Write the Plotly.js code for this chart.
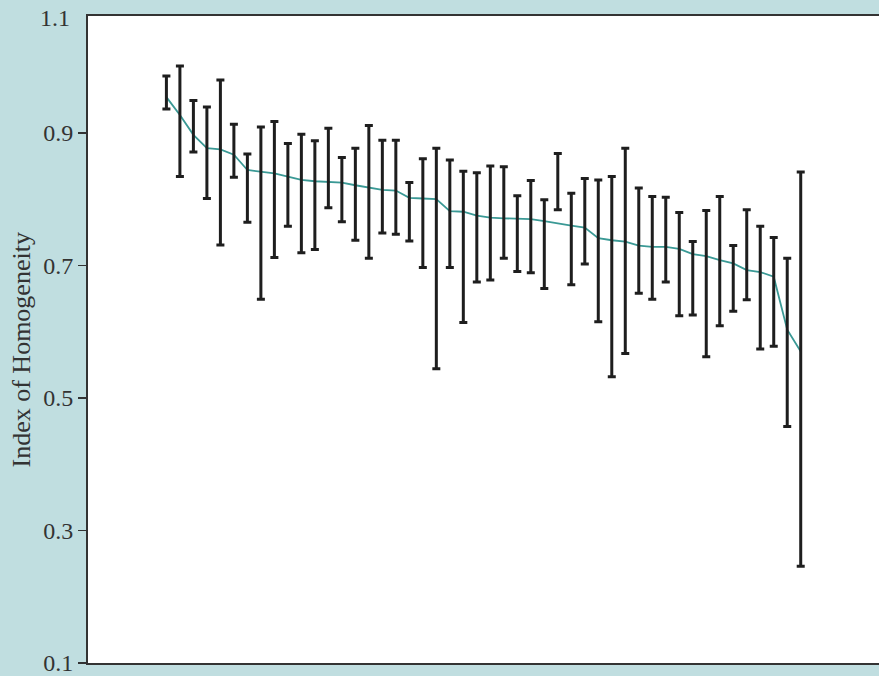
<!DOCTYPE html>
<html>
<head>
<meta charset="utf-8">
<script src="https://cdn.plot.ly/plotly-3.0.1.min.js"></script>
<style>
  html, body { margin: 0; padding: 0; background: #c0dee0; }
  #chart { width: 879px; height: 676px; }
</style>
</head>
<body>
<div id="chart"></div>
<script>
// Mean index of homogeneity per unit (teal line), sorted descending
const means = [0.954,0.927,0.897,0.877,0.875,0.867,0.844,0.841,0.839,0.834,
               0.829,0.827,0.826,0.825,0.821,0.818,0.814,0.813,0.802,0.801,
               0.800,0.782,0.781,0.775,0.772,0.771,0.771,0.770,0.767,0.763,
               0.760,0.757,0.741,0.738,0.736,0.730,0.728,0.728,0.725,0.717,
               0.714,0.708,0.703,0.693,0.690,0.683,0.603,0.570];
// Upper end of each interval
const upper = [0.986,1.001,0.949,0.939,0.980,0.913,0.868,0.909,0.917,0.884,
               0.898,0.888,0.907,0.863,0.877,0.911,0.889,0.889,0.825,0.861,
               0.877,0.859,0.842,0.840,0.850,0.849,0.805,0.828,0.799,0.869,
               0.809,0.831,0.829,0.834,0.877,0.817,0.804,0.803,0.780,0.736,
               0.783,0.804,0.730,0.784,0.759,0.742,0.711,0.841];
// Lower end of each interval
const lower = [0.936,0.834,0.871,0.801,0.731,0.833,0.765,0.649,0.712,0.759,
               0.719,0.724,0.787,0.766,0.738,0.711,0.749,0.747,0.737,0.697,
               0.544,0.697,0.614,0.675,0.678,0.711,0.691,0.689,0.665,0.784,
               0.671,0.702,0.615,0.532,0.567,0.658,0.649,0.675,0.624,0.625,
               0.562,0.609,0.631,0.648,0.574,0.578,0.457,0.246];
const units = means.map((_, i) => i + 1);
const yTickVals = [0.1, 0.3, 0.5, 0.7, 0.9];
const yTickText = ['0.1', '0.3', '0.5', '0.7', '0.9'];
const yTopLabel = '1.1';
const yTitle = 'Index of Homogeneity';

const BG = '#c0dee0';
const FONT = '"Liberation Serif", "DejaVu Serif", serif';
const TEXT = '#333333';

const lineTrace = {
  x: units, y: means, type: 'scatter', mode: 'lines',
  line: { color: '#3a9995', width: 1.8 },
  hoverinfo: 'skip', showlegend: false
};

const barTrace = {
  x: units, y: lower, type: 'scatter', mode: 'markers',
  marker: { color: 'rgba(0,0,0,0)', size: 1 },
  error_y: {
    type: 'data', symmetric: false,
    array: upper.map((u, i) => u - lower[i]),
    arrayminus: lower.map(() => 0),
    color: '#1e1e1e', thickness: 3, width: 4
  },
  hoverinfo: 'skip', showlegend: false
};

const layout = {
  width: 879, height: 676,
  paper_bgcolor: BG, plot_bgcolor: '#ffffff',
  margin: { l: 88, r: 0, t: 16, b: 13, pad: 0 },
  font: { family: FONT, color: TEXT, size: 24 },
  showlegend: false,
  xaxis: {
    range: [-4.81, 53.8],
    showgrid: false, zeroline: false, showticklabels: false, ticks: '',
    showline: true, linecolor: '#333333', linewidth: 2, mirror: true
  },
  yaxis: {
    range: [0.1, 1.0764],
    tickvals: yTickVals, ticktext: yTickText,
    ticks: 'outside', ticklen: 8, tickwidth: 1.5, tickcolor: '#333333',
    ticklabelstandoff: 0, ticklabeloverflow: 'allow',
    tickfont: { family: FONT, size: 24, color: TEXT },
    showgrid: false, zeroline: false,
    showline: true, linecolor: '#333333', linewidth: 2
  },
  annotations: [{
    xref: 'paper', yref: 'paper', x: 0, y: 1,
    xanchor: 'right', yanchor: 'middle', xshift: -16, yshift: -2,
    text: yTopLabel, showarrow: false,
    font: { family: FONT, size: 24, color: TEXT }
  }, {
    xref: 'paper', yref: 'paper', x: 0, y: 0.5,
    xanchor: 'center', yanchor: 'middle', xshift: -67, yshift: -11,
    textangle: -90,
    text: yTitle, showarrow: false,
    font: { family: FONT, size: 26, color: TEXT }
  }]
};

Plotly.newPlot('chart', [lineTrace, barTrace], layout, { staticPlot: true, displayModeBar: false });
</script>
</body>
</html>
